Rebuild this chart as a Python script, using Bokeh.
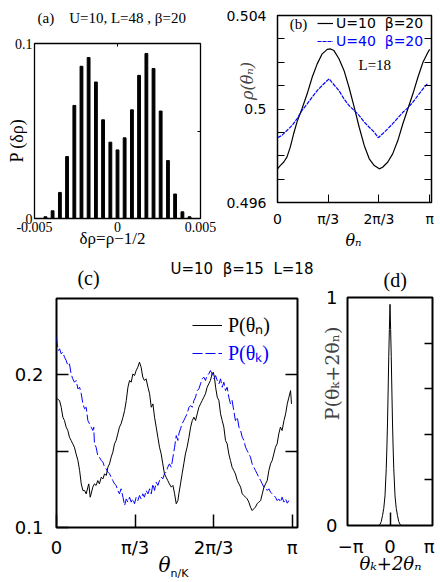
import math
from bokeh.plotting import figure
from bokeh.models import FixedTicker, LinearAxis, Label, Legend, LegendItem, Range1d
from bokeh.layouts import column, row
from bokeh.embed import file_html
from bokeh.resources import INLINE

PI = math.pi

# ---------------- data ----------------
# (a) histogram of delta rho
delta_rho = [-0.00434, -0.00391, -0.00347, -0.00304, -0.00260, -0.00217, -0.00174,
             -0.00130, -0.00087, -0.00043, 0.0, 0.00043, 0.00087, 0.00130, 0.00174,
             0.00217, 0.00260, 0.00304, 0.00347, 0.00391, 0.00434]
p_delta_rho = [0.0010, 0.0044, 0.0149, 0.0354, 0.0646, 0.0870, 0.0920, 0.0780, 0.0564,
               0.0436, 0.0392, 0.0461, 0.0621, 0.0818, 0.0943, 0.0857, 0.0614, 0.0331,
               0.0140, 0.0038, 0.0010]

# (b) rho(theta_n), theta in units of pi
b_theta_u10 = [0.000, 0.018, 0.040, 0.062, 0.084, 0.106, 0.128, 0.161, 0.195, 0.228, 0.261,
               0.294, 0.327, 0.349, 0.371, 0.404, 0.437, 0.470, 0.504, 0.537, 0.570, 0.603,
               0.636, 0.669, 0.691, 0.724, 0.757, 0.791, 0.824, 0.857, 0.890, 0.923, 0.956,
               0.989, 1.000]
b_rho_u10 = [0.49744, 0.49758, 0.49772, 0.49794, 0.49837, 0.49894, 0.49944, 0.50001, 0.50065,
             0.50136, 0.50193, 0.50236, 0.50255, 0.50257, 0.50250, 0.50215, 0.50165, 0.50093,
             0.50008, 0.49922, 0.49844, 0.49787, 0.49758, 0.49744, 0.49751, 0.49772, 0.49808,
             0.49865, 0.49937, 0.50001, 0.50065, 0.50136, 0.50200, 0.50243, 0.50255]
b_theta_u40 = [0.000, 0.029, 0.062, 0.095, 0.128, 0.161, 0.195, 0.228, 0.261, 0.294, 0.327,
               0.340, 0.360, 0.404, 0.437, 0.470, 0.504, 0.537, 0.570, 0.603, 0.636, 0.662,
               0.691, 0.724, 0.757, 0.791, 0.824, 0.857, 0.890, 0.923, 0.956, 0.989]
b_rho_u40 = [0.49877, 0.49887, 0.49908, 0.49929, 0.49958, 0.49994, 0.50022, 0.50051, 0.50079,
             0.50101, 0.50122, 0.50129, 0.50112, 0.50079, 0.50043, 0.50015, 0.49994, 0.49972,
             0.49944, 0.49922, 0.49901, 0.49877, 0.49894, 0.49915, 0.49937, 0.49962, 0.49986,
             0.50005, 0.50029, 0.50058, 0.50086, 0.50111]

# (c) P(theta_n) and P(theta_K), theta in units of pi
c_theta_n = [0.003, 0.013, 0.020, 0.027, 0.034, 0.041, 0.048, 0.055, 0.062, 0.069, 0.076, 0.083,
             0.091, 0.098, 0.105, 0.112, 0.119, 0.126, 0.133, 0.137, 0.143, 0.147, 0.154, 0.161,
             0.168, 0.175, 0.182, 0.190, 0.197, 0.204, 0.211, 0.218, 0.225, 0.232, 0.239, 0.246,
             0.253, 0.260, 0.267, 0.274, 0.282, 0.289, 0.296, 0.303, 0.310, 0.317, 0.324, 0.331,
             0.338, 0.345, 0.352, 0.359, 0.366, 0.373, 0.380, 0.388, 0.395, 0.402, 0.409, 0.416,
             0.423, 0.430, 0.437, 0.444, 0.451, 0.458, 0.465, 0.472, 0.479, 0.487, 0.494, 0.501,
             0.508, 0.515, 0.519, 0.526, 0.533, 0.540, 0.547, 0.554, 0.562, 0.569, 0.576, 0.583,
             0.590, 0.597, 0.604, 0.611, 0.618, 0.625, 0.632, 0.639, 0.646, 0.653, 0.660, 0.665,
             0.670, 0.675, 0.682, 0.689, 0.696, 0.703, 0.710, 0.717, 0.724, 0.731, 0.738, 0.745,
             0.752, 0.759, 0.767, 0.774, 0.781, 0.788, 0.795, 0.802, 0.809, 0.816, 0.823, 0.830,
             0.837, 0.844, 0.851, 0.858, 0.866, 0.873, 0.880, 0.887, 0.894, 0.901, 0.908, 0.915,
             0.922, 0.929, 0.936, 0.943, 0.950, 0.957, 0.965, 0.972, 0.979, 0.986, 0.993, 0.997]
c_p_n = [0.1841, 0.1830, 0.1786, 0.1721, 0.1699, 0.1656, 0.1634, 0.1590, 0.1569, 0.1547, 0.1525,
         0.1481, 0.1438, 0.1373, 0.1285, 0.1242, 0.1242, 0.1220, 0.1264, 0.1285, 0.1198, 0.1220,
         0.1264, 0.1285, 0.1275, 0.1307, 0.1285, 0.1329, 0.1318, 0.1351, 0.1340, 0.1394, 0.1416,
         0.1460, 0.1492, 0.1547, 0.1569, 0.1612, 0.1656, 0.1678, 0.1721, 0.1765, 0.1830, 0.1917,
         0.1961, 0.1950, 0.2004, 0.1993, 0.2026, 0.2048, 0.2081, 0.2048, 0.1983, 0.1961, 0.1972,
         0.1917, 0.1874, 0.1786, 0.1808, 0.1721, 0.1656, 0.1590, 0.1525, 0.1481, 0.1416, 0.1351,
         0.1329, 0.1307, 0.1285, 0.1264, 0.1275, 0.1220, 0.1155, 0.1176, 0.1220, 0.1285, 0.1351,
         0.1416, 0.1481, 0.1525, 0.1590, 0.1656, 0.1699, 0.1721, 0.1699, 0.1743, 0.1786, 0.1808,
         0.1830, 0.1852, 0.1874, 0.1917, 0.1939, 0.1961, 0.2004, 0.2015, 0.1983, 0.1917, 0.1852,
         0.1830, 0.1743, 0.1699, 0.1656, 0.1569, 0.1547, 0.1481, 0.1438, 0.1394, 0.1373, 0.1351,
         0.1307, 0.1285, 0.1264, 0.1220, 0.1209, 0.1198, 0.1187, 0.1166, 0.1133, 0.1111, 0.1122,
         0.1133, 0.1155, 0.1166, 0.1176, 0.1220, 0.1264, 0.1285, 0.1307, 0.1373, 0.1416, 0.1438,
         0.1481, 0.1525, 0.1547, 0.1612, 0.1656, 0.1634, 0.1699, 0.1743, 0.1808, 0.1852, 0.1895,
         0.1808]
c_theta_k = [0.000, 0.003, 0.008, 0.013, 0.020, 0.027, 0.034, 0.041, 0.048, 0.055, 0.062, 0.069,
             0.076, 0.083, 0.091, 0.098, 0.105, 0.112, 0.119, 0.126, 0.133, 0.140, 0.147, 0.154,
             0.158, 0.161, 0.168, 0.175, 0.182, 0.190, 0.197, 0.204, 0.211, 0.218, 0.225, 0.232,
             0.239, 0.246, 0.253, 0.260, 0.267, 0.274, 0.282, 0.289, 0.296, 0.303, 0.310, 0.317,
             0.324, 0.331, 0.338, 0.345, 0.352, 0.359, 0.366, 0.373, 0.380, 0.388, 0.395, 0.402,
             0.409, 0.416, 0.423, 0.430, 0.437, 0.444, 0.451, 0.458, 0.465, 0.472, 0.479, 0.487,
             0.494, 0.501, 0.508, 0.515, 0.519, 0.526, 0.533, 0.540, 0.547, 0.554, 0.562, 0.569,
             0.576, 0.583, 0.590, 0.597, 0.604, 0.611, 0.618, 0.625, 0.632, 0.639, 0.646, 0.653,
             0.660, 0.668, 0.675, 0.682, 0.689, 0.696, 0.703, 0.710, 0.717, 0.724, 0.731, 0.738,
             0.745, 0.752, 0.759, 0.767, 0.774, 0.781, 0.788, 0.795, 0.802, 0.809, 0.816, 0.823,
             0.830, 0.837, 0.844, 0.851, 0.858, 0.866, 0.873, 0.880, 0.887, 0.894, 0.901, 0.908,
             0.915, 0.922, 0.929, 0.936, 0.943, 0.950, 0.957, 0.965, 0.972, 0.979, 0.986]
c_p_k = [0.2244, 0.2200, 0.2157, 0.2168, 0.2135, 0.2146, 0.2113, 0.2092, 0.2059, 0.2070, 0.2004,
         0.1972, 0.1950, 0.1961, 0.1906, 0.1917, 0.1874, 0.1808, 0.1776, 0.1786, 0.1699, 0.1678,
         0.1656, 0.1634, 0.1656, 0.1547, 0.1525, 0.1471, 0.1460, 0.1438, 0.1427, 0.1394, 0.1383,
         0.1362, 0.1351, 0.1329, 0.1307, 0.1285, 0.1275, 0.1242, 0.1220, 0.1253, 0.1198, 0.1144,
         0.1187, 0.1166, 0.1198, 0.1166, 0.1187, 0.1155, 0.1198, 0.1176, 0.1209, 0.1187, 0.1220,
         0.1198, 0.1242, 0.1220, 0.1253, 0.1220, 0.1285, 0.1242, 0.1296, 0.1275, 0.1307, 0.1329,
         0.1318, 0.1351, 0.1362, 0.1394, 0.1416, 0.1394, 0.1460, 0.1525, 0.1601, 0.1569, 0.1612,
         0.1645, 0.1678, 0.1699, 0.1721, 0.1743, 0.1786, 0.1797, 0.1786, 0.1830, 0.1852, 0.1895,
         0.1906, 0.1939, 0.1972, 0.1983, 0.1961, 0.1993, 0.2004, 0.2026, 0.2004, 0.1972, 0.1993,
         0.1961, 0.1939, 0.1972, 0.1917, 0.1950, 0.1895, 0.1917, 0.1852, 0.1808, 0.1830, 0.1765,
         0.1699, 0.1721, 0.1656, 0.1634, 0.1590, 0.1569, 0.1525, 0.1503, 0.1481, 0.1460, 0.1416,
         0.1394, 0.1373, 0.1351, 0.1329, 0.1307, 0.1285, 0.1264, 0.1264, 0.1242, 0.1253, 0.1231,
         0.1220, 0.1209, 0.1198, 0.1176, 0.1187, 0.1166, 0.1198, 0.1166, 0.1187, 0.1159, 0.1176]

# (d) P(theta_K + 2 theta_n)
d_phase = [-0.9, -0.8, -0.7, -0.6, -0.5, -0.4, -0.3, -0.25, -0.2, -0.15, -0.1, -0.05, 0.0,
           0.05, 0.1, 0.15, 0.2, 0.25, 0.3, 0.4, 0.5, 0.6, 0.7, 0.8, 0.9]
d_prob = [0.0, 0.005, 0.017, 0.043, 0.075, 0.13, 0.25, 0.34, 0.45, 0.59, 0.74, 0.86, 0.97,
          0.86, 0.74, 0.59, 0.45, 0.34, 0.25, 0.13, 0.075, 0.043, 0.017, 0.005, 0.0]

# ticks / labels
a_xticks = [-0.005, 0.0, 0.005]
a_xlabels = ["-0.005", "0", "0.005"]
a_yticks = [0.0, 0.1]
a_ylabels = ["0", "0.1"]
b_yticks = [0.496, 0.5, 0.504]
b_yminor = [0.497, 0.498, 0.499, 0.501, 0.502, 0.503]
pi_ticks = [0.0, PI / 3, 2 * PI / 3, PI]
pi_labels = ["0", "π/3", "2π/3", "π"]
c_yticks = [0.1, 0.2]
c_yminor = [0.15]
d_xticks = [-PI, 0.0, PI]
d_xlabels = ["−π", "0", "π"]
d_yticks = [0.0, 1.0]
d_yright = [0.2, 0.4, 0.6, 0.8]

BLUE = "#0000ff"
NB = "\u00a0"
EM = "\u2003"
EN = "\u2002"

# ---------------- layout geometry (page px, origin at top-left) ----------------
G = {
    "a": dict(w=224, h=250, ox=0, oy=0, fl=34, ft=43, fw=166, fh=175),
    "b": dict(w=216, h=250, ox=224, oy=0, fl=277, ft=15, fw=154, fh=187),
    "c": dict(w=318, h=330, ox=0, oy=250, fl=56, ft=298, fw=241, fh=229),
    "d": dict(w=118, h=330, ox=318, oy=250, fl=341, ft=297, fw=91, fh=230),
}


def make_fig(g, xr, yr, ow):
    left = g["fl"] - g["ox"]
    top = g["ft"] - g["oy"]
    p = figure(width=g["w"], height=g["h"], x_range=Range1d(*xr), y_range=Range1d(*yr),
               output_backend="svg", toolbar_location=None,
               x_axis_type=None, y_axis_type=None,
               min_border_left=left, min_border_top=top,
               min_border_right=g["w"] - left - g["fw"],
               min_border_bottom=g["h"] - top - g["fh"])
    p.outline_line_color = "black"
    p.outline_line_width = ow
    p.background_fill_color = "white"
    p.border_fill_color = "white"
    return p


def add_axis(p, side, ticks, labels=None, minor=None, tick_in=0, font="DejaVu Sans",
             size="14px", standoff=5, tw=1.0):
    ax = LinearAxis(ticker=FixedTicker(ticks=ticks, minor_ticks=minor or []))
    ax.axis_line_color = None
    ax.major_tick_in = tick_in
    ax.major_tick_out = 0
    ax.minor_tick_in = tick_in
    ax.minor_tick_out = 0
    ax.major_tick_line_width = tw
    ax.minor_tick_line_width = tw
    ax.major_tick_line_color = "black"
    ax.minor_tick_line_color = "black"
    ax.major_label_text_font = font
    ax.major_label_text_color = "black"
    if labels is None:
        ax.major_label_text_font_size = "1px"
        ax.major_label_standoff = 0
        ax.major_label_overrides = {t: "" for t in ticks}
    else:
        ax.major_label_text_font_size = size
        ax.major_label_standoff = standoff
        ax.major_label_overrides = dict(zip(ticks, labels))
    p.add_layout(ax, side)
    return ax


def put(p, g, px, py, text, size, side, font="Liberation Serif", color="black",
        align="center", baseline="middle", angle=0.0, style="normal"):
    """Text label placed at a page position, converted to the plot's data units.
    Added to a side panel so that it is not clipped to the frame."""
    xr, yr = p.x_range, p.y_range
    x = xr.start + (px - g["fl"]) / g["fw"] * (xr.end - xr.start)
    y = yr.end - (py - g["ft"]) / g["fh"] * (yr.end - yr.start)
    p.add_layout(Label(x=x, y=y, text=text, text_font=font, text_font_size=size,
                       text_color=color, text_align=align, text_baseline=baseline,
                       angle=angle, text_font_style=style), side)


def legend(p, g, renderer, text, left_px, top_px, row_h, glyph_w, font, size, color, standoff):
    loc = (left_px - g["fl"], (g["ft"] + g["fh"]) - (top_px + row_h))
    lg = Legend(items=[LegendItem(label=text, renderers=[renderer])], location=loc,
                label_text_font=font, label_text_font_size=size, label_text_color=color,
                glyph_width=glyph_w, glyph_height=row_h, label_height=row_h,
                label_standoff=standoff, padding=0, margin=0, spacing=0,
                border_line_color=None, background_fill_alpha=0)
    p.add_layout(lg)


# ---------------- (a) ----------------
ga = G["a"]
pa = make_fig(ga, (-0.005, 0.005), (0.0, 0.1), 1.3)
pa.vbar(x=delta_rho, top=p_delta_rho, width=0.00017, bottom=0, color="black")
add_axis(pa, "below", a_xticks, a_xlabels, font="Liberation Serif", size="14px", standoff=3)
add_axis(pa, "left", a_yticks, a_ylabels, font="Liberation Serif", size="14px", standoff=2)
add_axis(pa, "right", [0.05], None, tick_in=3)
add_axis(pa, "above", [0.0], None, tick_in=3)
put(pa, ga, 37, 17, "(a)" + NB * 3 + " U=10, L=48 , β=20", "15px", "above", align="left")
put(pa, ga, 112, 238, "δρ=ρ−1/2", "17px", "above")
put(pa, ga, 16, 140, "P (δρ)", "18px", "right", angle=PI / 2)

# ---------------- (b) ----------------
gb = G["b"]
pb = make_fig(gb, (0.0, 3.18), (0.496, 0.504), 1.5)
rb1 = pb.line([t * PI for t in b_theta_u10], b_rho_u10, line_color="black", line_width=1.2)
rb2 = pb.line([t * PI for t in b_theta_u40], b_rho_u40, line_color=BLUE, line_width=1.2,
              line_dash="4 1")
bl = add_axis(pb, "left", b_yticks, ["0.496", "0.5", "0.504"], minor=b_yminor, tick_in=7,
              size="14px", standoff=11)
bl.axis_label = EM * 3 + EN + "ρ(θₙ)"
bl.axis_label_text_font = "DejaVu Serif"
bl.axis_label_text_font_style = "italic"
bl.axis_label_text_font_size = "16px"
bl.axis_label_standoff = -34
add_axis(pb, "right", b_yticks + b_yminor, None, tick_in=7)
add_axis(pb, "below", pi_ticks, pi_labels, tick_in=8, size="14px", standoff=8)
legend(pb, gb, rb1, "U=10" + NB + " β=20", 317, 15, 16, 16, "DejaVu Sans", "14px", "black", 3)
legend(pb, gb, rb2, "U=40" + NB + " β=20", 317, 33, 16, 16, "DejaVu Sans", "14px", BLUE, 3)
put(pb, gb, 298, 23, "(b)", "15px", "center")
put(pb, gb, 358, 64, "L=18", "15px", "center", align="left")
put(pb, gb, 353, 240, "θₙ", "16px", "below", font="DejaVu Serif", style="italic")

# ---------------- (c) ----------------
gc = G["c"]
pc = make_fig(gc, (0.0, 3.212), (0.1, 0.2497), 2)
rc1 = pc.line([t * PI for t in c_theta_n], c_p_n, line_color="black", line_width=1)
rc2 = pc.line([t * PI for t in c_theta_k], c_p_k, line_color=BLUE, line_width=1,
              line_dash="10 3")
add_axis(pc, "left", c_yticks, ["0.1", "0.2"], minor=c_yminor, tick_in=12, size="18px",
         standoff=13, tw=1.5)
add_axis(pc, "right", [0.15, 0.2], None, tick_in=12, tw=1.5)
add_axis(pc, "below", pi_ticks, pi_labels, tick_in=13, size="18px", standoff=9, tw=1.5)
legend(pc, gc, rc1, "P(θₙ)", 192, 316, 22, 30, "Liberation Serif", "20px", "black", 6)
legend(pc, gc, rc2, "P(θₖ)", 192, 344, 22, 30, "Liberation Serif", "20px", BLUE, 6)
put(pc, gc, 88, 277, "(c)", "20px", "above")
put(pc, gc, 170, 268, "U=10" + NB + " β=15" + NB + " L=18", "15px", "above",
    font="DejaVu Sans", align="left")
put(pc, gc, 164, 564, "θ", "20px", "right", font="DejaVu Serif", style="italic")
put(pc, gc, 170, 573, "n/K", "11px", "below", font="DejaVu Sans", align="left")

# ---------------- (d) ----------------
gd = G["d"]
pd_ = make_fig(gd, (-3.4, 3.4), (0.0, 1.0), 2)
pd_.line(d_phase, d_prob, line_color="black", line_width=1)
dl = add_axis(pd_, "left", d_yticks, ["0", "1"], tick_in=0, size="18px", standoff=10)
dl.axis_label = EM * 4 + "P(θₖ+2θₙ)"
dl.axis_label_text_font = "DejaVu Serif"
dl.axis_label_text_font_style = "normal"
dl.axis_label_text_font_size = "19px"
dl.axis_label_standoff = -20
add_axis(pd_, "right", d_yright, None, tick_in=8, tw=1.5)
add_axis(pd_, "below", d_xticks, d_xlabels, minor=[0.0], tick_in=0, size="18px", standoff=10,
         tw=1.5)
pd_.xaxis[0].minor_tick_in = 13
put(pd_, gd, 392, 279, "(d)", "20px", "above")
put(pd_, gd, 387, 565, "θₖ+2θₙ", "18px", "below", font="DejaVu Serif", style="italic")

layout = column(row(column(pa), column(pb)), row(column(pc), column(pd_)))
open("out.html", "w").write(file_html(layout, INLINE))
